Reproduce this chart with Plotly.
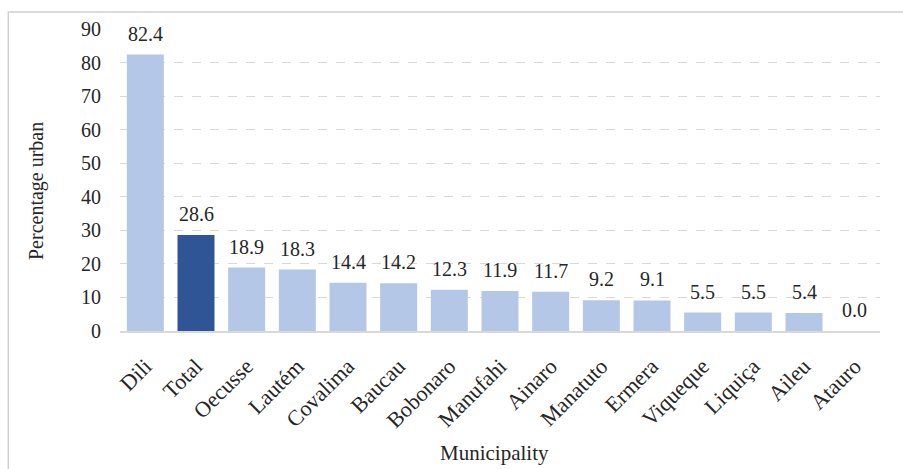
import plotly.graph_objects as go

# Urban share of population by municipality
municipalities = ["Dili", "Total", "Oecusse", "Lautém", "Covalima", "Baucau", "Bobonaro",
                  "Manufahi", "Ainaro", "Manatuto", "Ermera", "Viqueque", "Liquiça",
                  "Aileu", "Atauro"]
pct_urban = [82.4, 28.6, 18.9, 18.3, 14.4, 14.2, 12.3, 11.9, 11.7, 9.2, 9.1, 5.5, 5.5, 5.4, 0.0]

y_ticks = [0, 10, 20, 30, 40, 50, 60, 70, 80, 90]

LIGHT = "#B4C7E7"
DARK = "#2F5597"
FONT = "Liberation Serif, Times New Roman, serif"
INK = "#262626"

colors = [DARK if m == "Total" else LIGHT for m in municipalities]

fig = go.Figure(
    go.Bar(
        x=municipalities,
        y=pct_urban,
        marker=dict(color=colors, line=dict(width=0)),
    )
)

# value labels above each bar
annotations = [
    dict(x=m, y=v, text=f"{v:.1f}", showarrow=False, yanchor="bottom", yshift=8,
         font=dict(family=FONT, size=20, color=INK))
    for m, v in zip(municipalities, pct_urban)
]
annotations.append(dict(x=-0.109, y=0.464, xref="paper", yref="paper", text="Percentage urban",
                        textangle=-90, showarrow=False, xanchor="center", yanchor="middle",
                        font=dict(family=FONT, size=20, color=INK)))
annotations.append(dict(x=0.493, y=-0.404, xref="paper", yref="paper", text="Municipality",
                        showarrow=False, xanchor="center", yanchor="middle",
                        font=dict(family=FONT, size=21, color=INK)))

fig.update_layout(
    width=903, height=469,
    margin=dict(l=120, r=23, t=29, b=138),
    paper_bgcolor="white", plot_bgcolor="white",
    bargap=0.27,
    showlegend=False,
    font=dict(family=FONT, size=20, color=INK),
    annotations=annotations,
    shapes=[dict(type="rect", xref="paper", yref="paper",
                 x0=-0.147, x1=1.1, y0=-0.7, y1=1.056,
                 line=dict(color="#D0D0D0", width=1.5), layer="below")],
)

fig.update_yaxes(
    range=[0, 90], tickvals=y_ticks,
    showgrid=True, gridcolor="#D9D9D9", griddash="dash", gridwidth=1,
    zeroline=False, showline=False,
    ticks="", ticklabelstandoff=18,
    tickfont=dict(family=FONT, size=20, color=INK),
)
fig.update_xaxes(
    showline=True, linecolor="#D9D9D9", linewidth=1.5,
    tickangle=-45, ticks="", ticklabelstandoff=12,
    tickfont=dict(family=FONT, size=22, color=INK),
)

fig.write_html("out.html")
